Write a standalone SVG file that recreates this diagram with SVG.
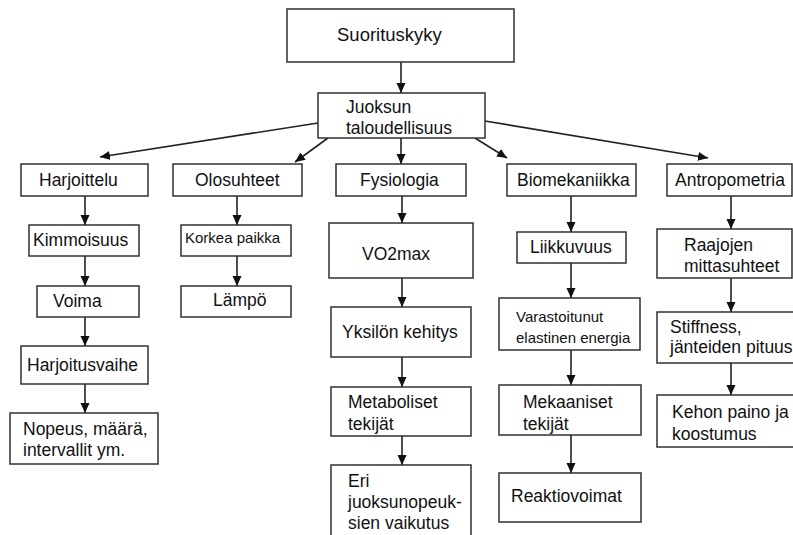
<svg xmlns="http://www.w3.org/2000/svg" width="793" height="535" viewBox="0 0 793 535">
<defs>
<style>
rect{fill:#fff;stroke:#303030;stroke-width:1.5}
text{font-family:"Liberation Sans",Arial,sans-serif;font-size:17.5px;fill:#111}
.s{font-size:15px}
.b{font-size:18.5px}
#connectors line{stroke:#222;stroke-width:1.6;marker-end:url(#ah)}
</style>
<marker id="ah" markerUnits="userSpaceOnUse" markerWidth="11" markerHeight="10" refX="10" refY="5" orient="auto">
<path d="M0,0.5 L10,5 L0,9.5 z" fill="#111"/>
</marker>
</defs>
<rect x="0" y="0" width="793" height="535" style="fill:#fff;stroke:none"/>
<g id="connectors">
<line x1="401" y1="62" x2="401" y2="93"/>
<line x1="318" y1="123" x2="100" y2="157"/>
<line x1="328" y1="138" x2="295" y2="162"/>
<line x1="401" y1="138" x2="401" y2="164"/>
<line x1="475" y1="138" x2="507" y2="158"/>
<line x1="485" y1="121" x2="708" y2="158"/>
<line x1="85" y1="196" x2="85" y2="225"/>
<line x1="85" y1="256" x2="85" y2="286"/>
<line x1="85" y1="317" x2="85" y2="346"/>
<line x1="85" y1="384" x2="85" y2="413"/>
<line x1="237" y1="196" x2="237" y2="225"/>
<line x1="237" y1="256" x2="237" y2="286"/>
<line x1="402" y1="196" x2="402" y2="223"/>
<line x1="402" y1="278" x2="402" y2="307"/>
<line x1="402" y1="357" x2="402" y2="387"/>
<line x1="402" y1="436" x2="402" y2="465"/>
<line x1="571" y1="196" x2="571" y2="232"/>
<line x1="571" y1="263" x2="571" y2="298"/>
<line x1="571" y1="350" x2="571" y2="385"/>
<line x1="571" y1="435" x2="571" y2="473"/>
<line x1="731" y1="196" x2="731" y2="229"/>
<line x1="731" y1="278" x2="731" y2="312"/>
<line x1="731" y1="363" x2="731" y2="395"/>
</g>
<g id="suorituskyky"><rect x="287" y="9" width="227" height="53"/><text class="b" x="337" y="41">Suorituskyky</text></g>
<g id="juoksun"><rect x="318" y="93" width="167" height="45"/><text x="346" y="113">Juoksun</text><text x="346" y="134">taloudellisuus</text></g>
<g id="harjoittelu"><rect x="21" y="164" width="127" height="32"/><text x="39" y="186">Harjoittelu</text></g>
<g id="olosuhteet"><rect x="173" y="164" width="129" height="32"/><text x="195" y="186">Olosuhteet</text></g>
<g id="fysiologia"><rect x="336" y="164" width="130" height="32"/><text x="360" y="186">Fysiologia</text></g>
<g id="biomekaniikka"><rect x="507" y="164" width="129" height="32"/><text x="517" y="186">Biomekaniikka</text></g>
<g id="antropometria"><rect x="667" y="164" width="125" height="32"/><text x="675" y="186">Antropometria</text></g>
<g id="kimmoisuus"><rect x="29" y="225" width="110" height="31"/><text x="33" y="246">Kimmoisuus</text></g>
<g id="voima"><rect x="37" y="286" width="102" height="31"/><text x="53" y="307">Voima</text></g>
<g id="harjoitusvaihe"><rect x="21" y="346" width="127" height="38"/><text x="27" y="371">Harjoitusvaihe</text></g>
<g id="nopeus"><rect x="10" y="413" width="148" height="51"/><text x="23" y="435">Nopeus, määrä,</text><text x="23" y="456">intervallit ym.</text></g>
<g id="korkea"><rect x="181" y="225" width="110" height="31"/><text class="s" x="185" y="243">Korkea paikka</text></g>
<g id="lampo"><rect x="181" y="286" width="110" height="31"/><text x="213" y="306">Lämpö</text></g>
<g id="vo2max"><rect x="329" y="223" width="144" height="55"/><text x="362" y="260">VO2max</text></g>
<g id="yksilon"><rect x="331" y="307" width="140" height="50"/><text x="342" y="338">Yksilön kehitys</text></g>
<g id="metaboliset"><rect x="331" y="387" width="140" height="49"/><text x="348" y="408">Metaboliset</text><text x="348" y="430">tekijät</text></g>
<g id="eri"><rect x="331" y="465" width="140" height="80"/><text x="348" y="487">Eri</text><text x="348" y="508">juoksunopeuk-</text><text x="348" y="529">sien vaikutus</text></g>
<g id="liikkuvuus"><rect x="517" y="232" width="109" height="31"/><text x="530" y="253">Liikkuvuus</text></g>
<g id="varastoitunut"><rect x="499" y="298" width="141" height="52"/><text class="s" x="516" y="322">Varastoitunut</text><text class="s" x="516" y="343">elastinen energia</text></g>
<g id="mekaaniset"><rect x="499" y="385" width="142" height="50"/><text x="523" y="408">Mekaaniset</text><text x="523" y="430">tekijät</text></g>
<g id="reaktiovoimat"><rect x="499" y="473" width="142" height="49"/><text x="511" y="502">Reaktiovoimat</text></g>
<g id="raajojen"><rect x="657" y="229" width="135" height="49"/><text x="684" y="251">Raajojen</text><text x="684" y="272">mittasuhteet</text></g>
<g id="stiffness"><rect x="657" y="312" width="140" height="51"/><text x="670" y="333">Stiffness,</text><text x="670" y="353">jänteiden pituus</text></g>
<g id="kehon"><rect x="657" y="395" width="140" height="52"/><text x="672" y="418">Kehon paino ja</text><text x="672" y="440">koostumus</text></g>
</svg>
